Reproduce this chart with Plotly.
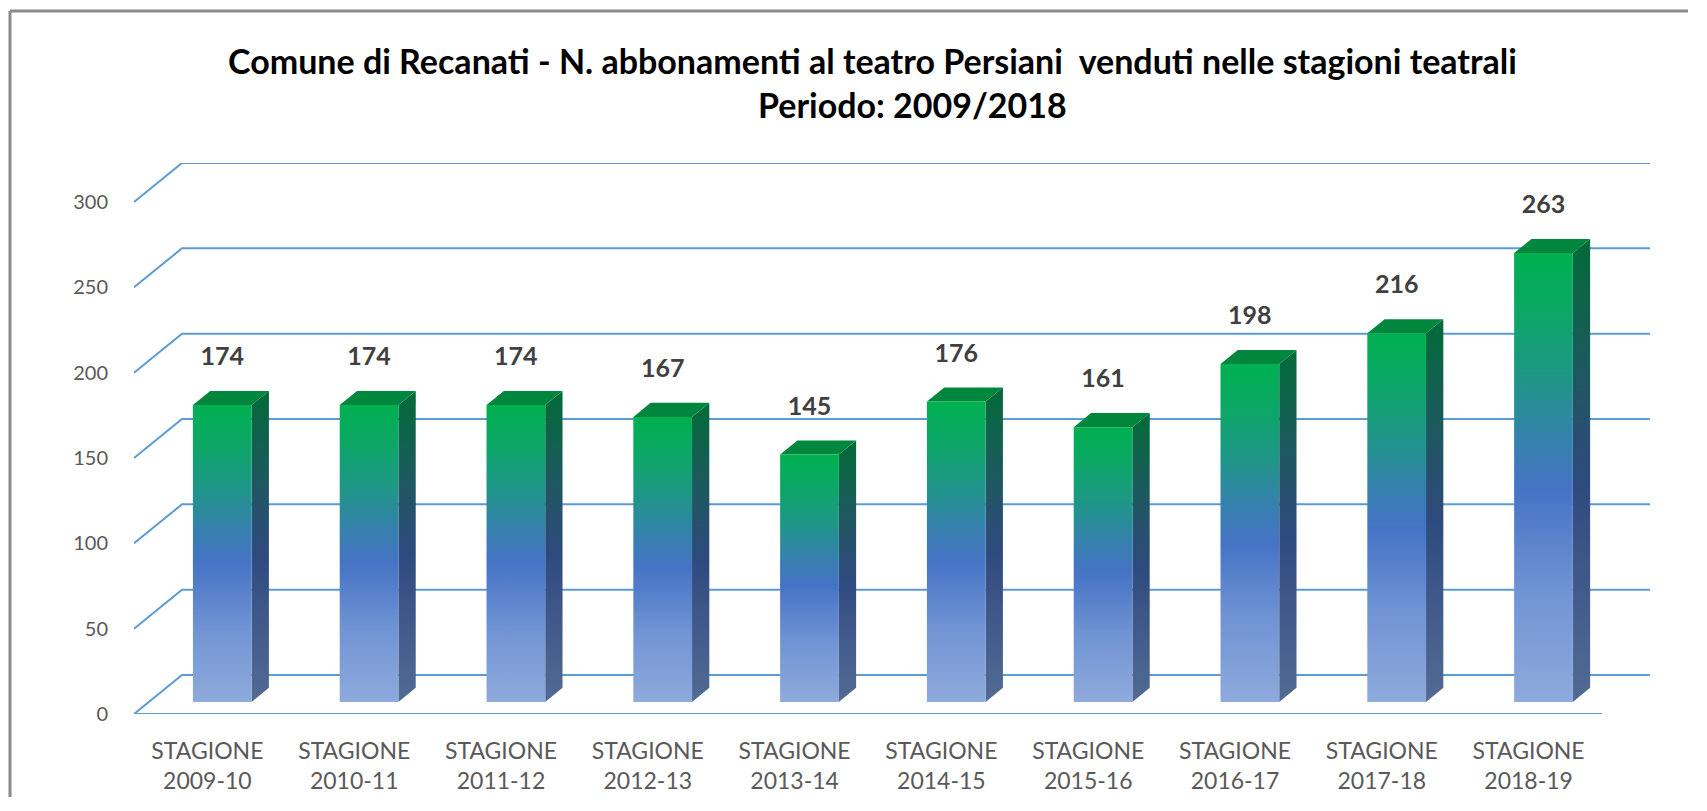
import plotly.graph_objects as go

# ---------------- data ----------------
seasons = ["2009-10", "2010-11", "2011-12", "2012-13", "2013-14",
           "2014-15", "2015-16", "2016-17", "2017-18", "2018-19"]
subscriptions = [174, 174, 174, 167, 145, 176, 161, 198, 216, 263]
y_ticks = [0, 50, 100, 150, 200, 250, 300]
category_prefix = "STAGIONE"
title_line1 = "Comune di Recanati - N. abbonamenti al teatro Persiani\u00a0 venduti nelle stagioni teatrali"
title_line2 = "Periodo: 2009/2018"

# ---------------- 3D look (style constants) ----------------
DX = 0.327      # depth offset along x (category units)
DY = 22.85      # depth offset along y (value units)
D0, D1 = 0.31, 0.67   # bar front / back depth fraction
W = 0.40        # bar width (category units)
LABEL_OFF = 27  # value label offset above the bar front top

n = len(seasons)
y_max = max(y_ticks)

front_scale = [[0.0, "#8FAADC"], [0.25, "#6F93D3"], [0.47, "#4673C5"],
               [0.58, "#3680AE"], [0.71, "#20958A"], [0.87, "#0CA766"],
               [1.0, "#00B050"]]
side_scale = [[0.0, "#526B94"], [0.3, "#3E5688"], [0.47, "#2E4A7E"],
              [0.6, "#27506E"], [0.75, "#1A5B5A"], [1.0, "#026B38"]]
top_color = "#00873D"
grid_color = "#5B9BD5"

fig = go.Figure()

# walls / gridlines
gx, gy = [], []
for v in y_ticks:
    gx += [-0.5, -0.5 + DX, n - 0.5 + DX, None]
    gy += [v, v + DY, v + DY, None]
gx += [-0.5, n - 0.5, None]
gy += [0, 0, None]
fig.add_trace(go.Scatter(x=gx, y=gy, mode="lines",
                         line=dict(color=grid_color, width=2),
                         hoverinfo="skip", showlegend=False))

# bars
t = D1 - D0
for i, v in enumerate(subscriptions):
    xl = i + D0 * DX - W / 2
    xr = i + D0 * DX + W / 2
    b0 = D0 * DY
    b1 = D1 * DY
    # side face
    fig.add_trace(go.Scatter(
        x=[xr, xr + t * DX, xr + t * DX, xr, xr],
        y=[b0, b1, v + b1, v + b0, b0],
        mode="lines", fill="toself", line=dict(width=0),
        fillgradient=dict(type="vertical", colorscale=side_scale),
        hoverinfo="skip", showlegend=False))
    # top face
    fig.add_trace(go.Scatter(
        x=[xl, xr, xr + t * DX, xl + t * DX, xl],
        y=[v + b0, v + b0, v + b1, v + b1, v + b0],
        mode="lines", fill="toself", line=dict(width=0),
        fillcolor=top_color, hoverinfo="skip", showlegend=False))
    # front face
    fig.add_trace(go.Scatter(
        x=[xl, xr, xr, xl, xl],
        y=[b0, b0, v + b0, v + b0, b0],
        mode="lines", fill="toself", line=dict(width=0),
        fillgradient=dict(type="vertical", colorscale=front_scale),
        name=seasons[i], hovertemplate=f"{category_prefix} {seasons[i]}: {v}<extra></extra>",
        showlegend=False))

# value labels
fig.add_trace(go.Scatter(
    x=[i + D0 * DX for i in range(n)],
    y=[v + D0 * DY + LABEL_OFF for v in subscriptions],
    mode="text", text=[str(v) for v in subscriptions],
    textfont=dict(family="Lato", size=25, color="#404040", weight="bold"),
    hoverinfo="skip", showlegend=False))

# page body has an 8px margin -> figure is drawn 8px right/down;
# keep the figure a little smaller than the window so no scrollbars appear
OFF = 8
PLOT_W, PLOT_H = 1516, 551
L, T = 134 - OFF, 163 - OFF
Wd, H = 1680, 789
R = Wd - L - PLOT_W
B = H - T - PLOT_H

def px_x(px):
    return (px - OFF - L) / PLOT_W

def px_y(py):
    return (H - B - (py - OFF)) / PLOT_H

frame = dict(color="#8A8A8A", width=3)
fig.update_layout(
    width=Wd, height=H,
    margin=dict(l=L, r=R, t=T, b=B, autoexpand=False),
    paper_bgcolor="white", plot_bgcolor="white",
    font=dict(family="Lato", color="#595959"),
    xaxis=dict(range=[-0.5, n - 0.5 + DX], showgrid=False, zeroline=False,
               showline=False, ticks="", tickmode="array",
               tickvals=list(range(n)),
               ticktext=[f"{category_prefix}<br>{s}" for s in seasons],
               tickfont=dict(size=23, color="#595959"),
               ticklabelstandoff=21, fixedrange=True, automargin=False),
    yaxis=dict(range=[0, y_max + DY], showgrid=False, zeroline=False,
               showline=False, ticks="", tickmode="array",
               tickvals=y_ticks, ticktext=[str(v) for v in y_ticks],
               tickfont=dict(size=20, color="#595959"),
               ticklabelstandoff=25, fixedrange=True, automargin=False),
    annotations=[
        dict(text=title_line1, xref="paper", yref="paper",
             x=px_x(872), y=px_y(60),
             xanchor="center", yanchor="middle", showarrow=False,
             font=dict(family="Lato", size=34, color="#000000", weight="bold")),
        dict(text=title_line2, xref="paper", yref="paper",
             x=px_x(912), y=px_y(105),
             xanchor="center", yanchor="middle", showarrow=False,
             font=dict(family="Lato", size=34, color="#000000", weight="bold")),
    ],
    shapes=[
        dict(type="line", xref="paper", yref="paper",
             x0=px_x(10), x1=px_x(10), y0=px_y(820), y1=px_y(11),
             line=frame, layer="below"),
        dict(type="line", xref="paper", yref="paper",
             x0=px_x(10), x1=px_x(1710), y0=px_y(11), y1=px_y(11),
             line=frame, layer="below"),
    ],
)

fig.write_html("out.html")
